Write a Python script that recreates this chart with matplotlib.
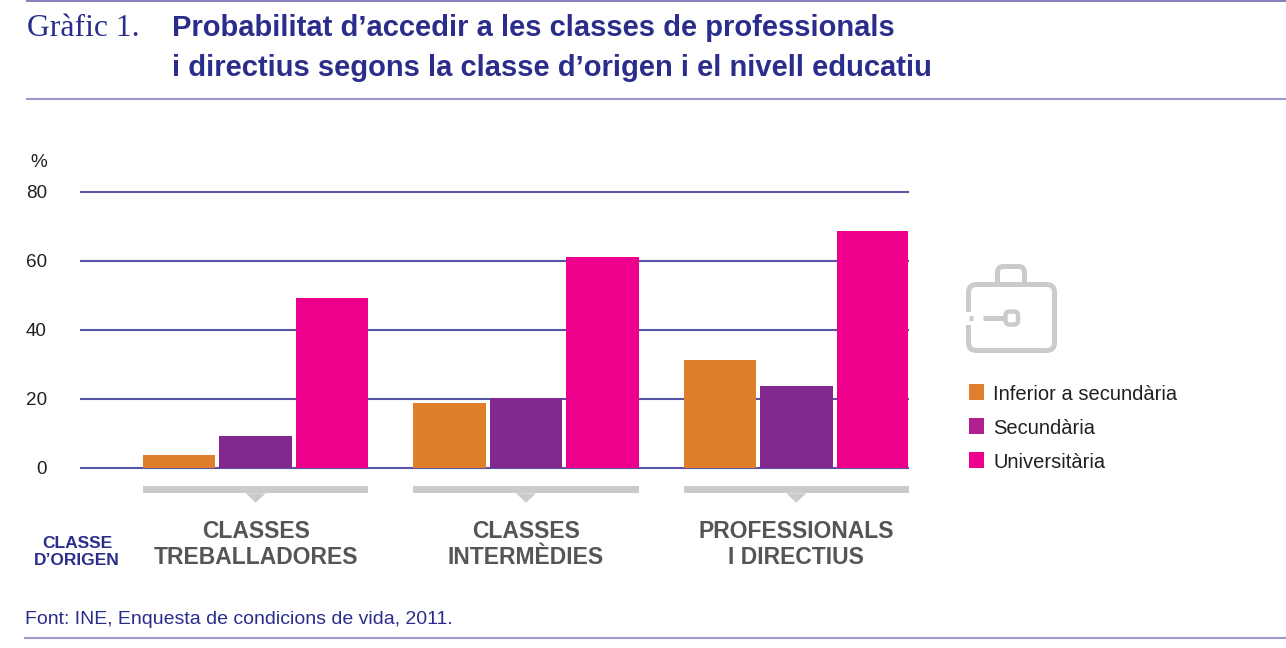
import matplotlib
matplotlib.use('Agg')
import matplotlib.pyplot as plt
import numpy as np
from matplotlib.patches import FancyBboxPatch, Rectangle, Polygon, PathPatch
from matplotlib.path import Path
from matplotlib.transforms import blended_transform_factory

# ---------------- data ----------------
categories_l1 = ['CLASSES', 'CLASSES', 'PROFESSIONALS']
categories_l2 = ['TREBALLADORES', 'INTERMÈDIES', 'I DIRECTIUS']
series = ['Inferior a secundària', 'Secundària', 'Universitària']
inferior = [3.7, 18.8, 31.3]
secundaria = [9.2, 20.2, 23.6]
universitaria = [49.2, 61.0, 68.6]
yticks = [0, 20, 40, 60, 80]

bar_colors = ['#e07f29', '#82288e', '#ec008c']
legend_colors = ['#e07f2e', '#b0208f', '#ec008c']
NAVY = '#2b2d8c'
GRID = '#5955a6'
RULE = '#9d99cf'
GRAY = '#cbcbcb'
LABEL = '#555555'
SANS = 'Liberation Sans'
SERIF = 'Liberation Serif'

W, H = 1286, 648
fig = plt.figure(figsize=(W / 100, H / 100), dpi=100)

# overlay axes in pixel coordinates
ov = fig.add_axes([0, 0, 1, 1])
ov.set_xlim(0, W)
ov.set_ylim(H, 0)
ov.axis('off')

ax = fig.add_axes([81 / W, 1 - 467.7 / H, 827 / W, 276 / H])
ax.set_xlim(-0.6463, 2.4132)
ax.set_ylim(0, 80)
for s in ax.spines.values():
    s.set_visible(False)
ax.patch.set_alpha(0)

x = np.arange(len(categories_l1))
pitch = 0.283
width = 0.268
values = [inferior, secundaria, universitaria]
for i, (vals, c) in enumerate(zip(values, bar_colors)):
    ax.bar(x + (i - 1) * pitch, vals, width=width, color=c, linewidth=0, zorder=3)

for t in yticks:
    ax.axhline(t, color=GRID, lw=1.5, zorder=1, clip_on=False)
ax.set_yticks(yticks)
ax.set_yticklabels([str(t) for t in yticks], fontsize=13.6, family=SANS, color='#231f20')
ax.tick_params(axis='y', length=0, pad=24.5)
ax.set_xticks([])

# grey brackets below groups
px_per_unit = 276 / 80
y_top = -(485.7 - 467.7) / px_per_unit
y_bot = -(493.3 - 467.7) / px_per_unit
y_tip = -(502.7 - 467.7) / px_per_unit
tri_hw = 10 / 270.3
for g in x:
    left = g - pitch - width / 2
    right = g + pitch + width / 2
    ax.add_patch(Rectangle((left, y_bot), right - left, y_top - y_bot,
                           color=GRAY, lw=0, clip_on=False))
    ax.add_patch(Polygon([(g - tri_hw, y_bot), (g + tri_hw, y_bot), (g, y_tip)],
                         closed=True, color=GRAY, lw=0, clip_on=False))

# category labels
trans = blended_transform_factory(ax.transData, ov.transData)
for g, l1, l2 in zip(x, categories_l1, categories_l2):
    ax.text(g, 538.3, l1, transform=trans, ha='center', va='baseline',
            fontsize=16.5, fontweight='bold', family=SANS, color=LABEL)
    ax.text(g, 564.3, l2, transform=trans, ha='center', va='baseline',
            fontsize=16.5, fontweight='bold', family=SANS, color=LABEL)

# axis-side labels
ov.text(47.3, 167.3, '%', ha='right', va='baseline', fontsize=13.6, family=SANS, color='#231f20')
ov.text(77, 547.7, 'CLASSE', ha='center', va='baseline', fontsize=12.5,
        fontweight='bold', family=SANS, color=NAVY)
ov.text(77, 565, 'D\u2019ORIGEN', ha='center', va='baseline', fontsize=12.5,
        fontweight='bold', family=SANS, color=NAVY)

# title
ov.text(27, 36, 'Gràfic 1.', ha='left', va='baseline', fontsize=22.8, family=SERIF, color=NAVY)
ov.text(172, 36, 'Probabilitat d\u2019accedir a les classes de professionals', ha='left',
        va='baseline', fontsize=21, fontweight='bold', family=SANS, color=NAVY)
ov.text(172, 76, 'i directius segons la classe d\u2019origen i el nivell educatiu', ha='left',
        va='baseline', fontsize=21, fontweight='bold', family=SANS, color=NAVY)

# source
ov.text(25, 624.3, 'Font: INE, Enquesta de condicions de vida, 2011.', ha='left',
        va='baseline', fontsize=14, family=SANS, color=NAVY)

# rules
ov.plot([26, W], [1, 1], color='#6f6bb3', lw=1.2, solid_capstyle='butt')
ov.plot([26, W], [98.7, 98.7], color=RULE, lw=1.5, solid_capstyle='butt')
ov.plot([24, W], [637.5, 637.5], color=RULE, lw=1.5, solid_capstyle='butt')

# legend
for i, (lab, c) in enumerate(zip(series, legend_colors)):
    y0 = 384.3 + i * 34
    ov.add_patch(Rectangle((968.7, y0), 15.6, 15.4, color=c, lw=0))
    ov.text(993.3, y0 + 15.4, lab, ha='left', va='baseline', fontsize=14.5,
            family=SANS, color='#231f20')

# briefcase icon
lw_ic = 3.6
ov.add_patch(FancyBboxPatch((968.5, 284.5), 86, 66,
                            boxstyle='round,pad=0,rounding_size=8',
                            fill=False, ec=GRAY, lw=lw_ic))
hp = Path([(997.5, 284.5), (997.5, 272.5), (997.5, 266.5), (1003.5, 266.5),
           (1018.5, 266.5), (1024.5, 266.5), (1024.5, 272.5), (1024.5, 284.5)],
          [Path.MOVETO, Path.LINETO, Path.CURVE3, Path.CURVE3,
           Path.LINETO, Path.CURVE3, Path.CURVE3, Path.LINETO])
ov.add_patch(PathPatch(hp, fill=False, ec=GRAY, lw=lw_ic))
ov.add_patch(Rectangle((963, 311.5), 10, 13, color='white', lw=0, zorder=5))
ov.plot([968.5, 973], [318, 318], color=GRAY, lw=lw_ic, solid_capstyle='butt', zorder=6)
ov.plot([983, 1004], [318, 318], color=GRAY, lw=lw_ic, solid_capstyle='butt', zorder=6)
ov.add_patch(FancyBboxPatch((1005.5, 311.5), 12.5, 13,
                            boxstyle='round,pad=0,rounding_size=4',
                            fill=False, ec=GRAY, lw=3.2, zorder=6))

fig.savefig('out.png', dpi=100)
